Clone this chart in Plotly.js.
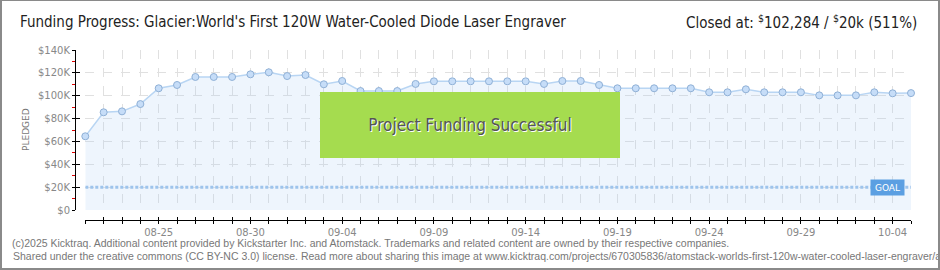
<!DOCTYPE html>
<html>
<head>
<meta charset="utf-8">
<script src="https://cdn.plot.ly/plotly-3.0.1.min.js"></script>
<style>
html,body{margin:0;padding:0;background:#fff;}
#wrap{position:relative;width:940px;height:270px;}
#chart{width:940px;height:270px;}
#frame{position:absolute;left:0;top:0;width:940px;height:270px;box-sizing:border-box;border-style:solid;border-color:#8a8a8a;border-width:1px 2px 2px 2px;pointer-events:none;}
</style>
</head>
<body>
<div id="wrap"><div id="chart"></div><div id="frame"></div></div>
<script>
// ---- data ----
const dates = [
 '2025-08-21','2025-08-22','2025-08-23','2025-08-24','2025-08-25','2025-08-26','2025-08-27','2025-08-28',
 '2025-08-29','2025-08-30','2025-08-31','2025-09-01','2025-09-02','2025-09-03','2025-09-04','2025-09-05',
 '2025-09-06','2025-09-07','2025-09-08','2025-09-09','2025-09-10','2025-09-11','2025-09-12','2025-09-13',
 '2025-09-14','2025-09-15','2025-09-16','2025-09-17','2025-09-18','2025-09-19','2025-09-20','2025-09-21',
 '2025-09-22','2025-09-23','2025-09-24','2025-09-25','2025-09-26','2025-09-27','2025-09-28','2025-09-29',
 '2025-09-30','2025-10-01','2025-10-02','2025-10-03','2025-10-04','2025-10-05'];
const pledged = [
 64500, 85500, 86300, 92700, 106500, 109400, 116400, 116400,
 116400, 118700, 120500, 117200, 118100, 110000, 112900, 104100,
 104100, 104100, 110300, 112600, 112600, 112600, 112600, 112600,
 112600, 110300, 112900, 112900, 109400, 106500, 106500, 106500,
 106500, 106500, 103000, 103000, 105600, 103000, 103000, 103000,
 100300, 100300, 100300, 103000, 102100, 102284];
const goal = 20000;
const yTickVals = [0, 20000, 40000, 60000, 80000, 100000, 120000, 140000];
const yTickText = ['$0', '$20K', '$40K', '$60K', '$80K', '$100K', '$120K', '$140K'];
const titleText = "Funding Progress: Glacier:World's First 120W Water-Cooled Diode Laser Engraver";
const closedText = 'Closed at: <sup>$</sup>102,284 / <sup>$</sup>20k (511%)';
const footer1 = '(c)2025 Kicktraq. Additional content provided by Kickstarter Inc. and Atomstack. Trademarks and related content are owned by their respective companies.';
const footer2 = 'Shared under the creative commons (CC BY-NC 3.0) license. Read more about sharing this image at www.kicktraq.com/projects/670305836/atomstack-worlds-first-120w-water-cooled-laser-engraver/a';

// ---- geometry helpers (pixel -> paper) ----
const W = 940, H = 270, ML = 75, MR = 29, MT = 50, MB = 50;
const PW = W - ML - MR, PH = H - MT - MB;
const px = x => (x - ML) / PW;
const py = y => (H - MB - y) / PH;
const DAY = 86400000;
const xDom = [px(85.3), 1];
const yDom = [py(210), 1];
const xRange = [dates[0], dates[dates.length - 1]];
const tickFont = {family: 'DejaVu Sans, sans-serif', size: 10, color: '#888'};
const headFont = {family: 'DejaVu Sans Condensed, sans-serif', size: 15, color: '#222'};

const traces = [
  {
    x: dates, y: pledged, type: 'scatter', mode: 'lines+markers',
    fill: 'tozeroy', fillcolor: 'rgba(170,205,245,0.2)',
    line: {color: '#b8d5f3', width: 1.5},
    marker: {size: 7, color: '#c6ddf8', line: {color: '#8fb0d6', width: 1}},
    cliponaxis: false, hoverinfo: 'x+y', showlegend: false
  },
  {
    x: [dates[0], dates[dates.length - 1]], y: [goal, goal], type: 'scatter', mode: 'lines',
    xaxis: 'x2', yaxis: 'y2',
    line: {color: '#9ec4ec', width: 3, dash: '3px,2px'},
    hoverinfo: 'skip', showlegend: false
  }
];

const layout = {
  width: W, height: H,
  margin: {l: ML, r: MR, t: MT, b: MB},
  paper_bgcolor: '#fff', plot_bgcolor: '#fff',
  showlegend: false,
  title: {
    text: titleText, xref: 'container', yref: 'container',
    x: 20 / W, xanchor: 'left', y: 1 - 22 / H, yanchor: 'middle',
    font: headFont
  },
  xaxis: {
    type: 'date', range: xRange, domain: xDom, anchor: 'free', position: 0,
    showline: true, linecolor: '#000', linewidth: 1,
    ticks: 'outside', ticklen: 3, tickcolor: '#000', tickwidth: 1,
    tick0: '2025-08-25', dtick: 5 * DAY, tickformat: '%m-%d', tickfont: tickFont,
    showgrid: true, gridcolor: '#e0e0e0', griddash: 'dash', gridwidth: 1,
    minor: {tick0: dates[0], dtick: DAY, ticks: 'outside', ticklen: 3, tickcolor: '#000',
            showgrid: true, gridcolor: '#e0e0e0', griddash: 'dash', gridwidth: 1},
    zeroline: false, fixedrange: true
  },
  xaxis2: {
    type: 'date', range: xRange, overlaying: 'x', anchor: 'free', position: 0,
    showline: false, showgrid: false, zeroline: false, showticklabels: false,
    ticks: 'inside', ticklen: 3, tickcolor: '#000', tick0: dates[0], dtick: DAY
  },
  yaxis: {
    range: [0, 140000], domain: yDom, anchor: 'free', position: 0,
    showline: true, linecolor: '#000', linewidth: 1,
    tickmode: 'array', tickvals: yTickVals, ticktext: yTickText, tickfont: tickFont,
    ticks: 'outside', ticklen: 3, tickcolor: '#000',
    showgrid: true, gridcolor: '#e0e0e0', griddash: 'dash', gridwidth: 1,
    minor: {tick0: 0, dtick: 10000, ticks: 'outside', ticklen: 3, tickcolor: '#e00000', showgrid: false},
    zeroline: false, fixedrange: true
  },
  yaxis2: {
    range: [0, 140000], overlaying: 'y', anchor: 'free', position: 0,
    showline: false, showgrid: false, zeroline: false, showticklabels: false,
    tickmode: 'array', tickvals: yTickVals, ticks: 'inside', ticklen: 4, tickcolor: '#000'
  },
  annotations: [
    {text: closedText, xref: 'paper', yref: 'paper', x: px(919), y: py(22),
     xanchor: 'right', yanchor: 'middle', showarrow: false, font: headFont},
    {text: 'PLEDGED', xref: 'paper', yref: 'paper', x: px(26), y: py(130),
     xanchor: 'center', yanchor: 'middle', textangle: -90, showarrow: false,
     font: {family: 'DejaVu Sans, sans-serif', size: 9, color: '#777'}},
    {text: 'Project Funding Successful', xref: 'paper', yref: 'paper', x: px(470.3), y: py(125),
     xanchor: 'center', yanchor: 'middle', showarrow: false,
     width: 300, height: 66, borderpad: 0, bgcolor: '#a5dc4f', borderwidth: 0,
     font: {family: 'DejaVu Sans Condensed, sans-serif', size: 17, color: '#555',
            shadow: '1px 1px 0px #ffffff'}},
    {text: 'GOAL', xref: 'paper', yref: 'paper', x: px(887.5), y: py(187.5),
     xanchor: 'center', yanchor: 'middle', showarrow: false,
     width: 31, height: 13, borderpad: 1, bgcolor: '#5b9fe2',
     font: {family: 'DejaVu Sans, sans-serif', size: 9, color: '#fff'}},
    {text: footer1, xref: 'paper', yref: 'paper', x: px(10), y: py(243),
     xanchor: 'left', yanchor: 'middle', showarrow: false,
     font: {family: 'Liberation Sans, Arial, sans-serif', size: 10.5, color: '#777'}},
    {text: footer2, xref: 'paper', yref: 'paper', x: px(11), y: py(256),
     xanchor: 'left', yanchor: 'middle', showarrow: false,
     font: {family: 'Liberation Sans, Arial, sans-serif', size: 10.5, color: '#777'}}
  ]
};

Plotly.newPlot('chart', traces, layout, {displayModeBar: false, staticPlot: true});
</script>
</body>
</html>
